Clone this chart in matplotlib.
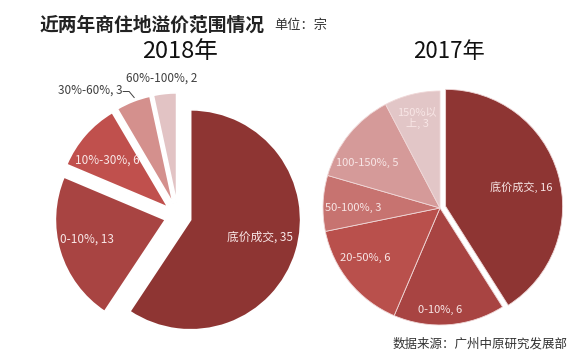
import numpy as np
import matplotlib.pyplot as plt

plt.rcParams['font.family'] = ['Noto Sans CJK SC', 'DejaVu Sans']

# data
labels_2018 = ['底价成交', '0-10%', '10%-30%', '30%-60%', '60%-100%']
values_2018 = [35, 13, 6, 3, 2]
colors_2018 = ['#8e3533', '#a84442', '#c0504d', '#d4908d', '#e2c3c4']

labels_2017 = ['底价成交', '0-10%', '20-50%', '50-100%', '100-150%', '150%以\n上']
values_2017 = [16, 6, 6, 3, 5, 3]
colors_2017 = ['#8e3533', '#a84442', '#b9504c', '#c77370', '#d59a99', '#e2c6c7']

title = '近两年商住地溢价范围情况'
unit = '单位：宗'
source = '数据来源：广州中原研究发展部'

W, H = 572, 360
fig = plt.figure(figsize=(W / 100, H / 100), dpi=100)
ax = fig.add_axes([0, 0, 1, 1])

# pie explode is in data units here (pixels), so scale by the radius
r18, r17 = 110, 117
w18, _ = ax.pie(values_2018, colors=colors_2018, startangle=90, counterclock=False,
                center=(178, 144), radius=r18, explode=[0.12 * r18] * 5,
                wedgeprops=dict(edgecolor='white', linewidth=1.2))
w17, _ = ax.pie(values_2017, colors=colors_2017, startangle=90, counterclock=False,
                center=(440, 152), radius=r17, explode=[0.05 * r17, 0, 0, 0, 0, 0],
                wedgeprops=dict(edgecolor='#f0d8d8', linewidth=0.6))
ax.set_xlim(0, W)
ax.set_ylim(0, H)
ax.set_aspect('equal')
ax.axis('off')


def polar(w, rfrac, dang=0.0):
    mid = np.deg2rad((w.theta1 + w.theta2) / 2 + dang)
    cx, cy = w.center
    return cx + w.r * rfrac * np.cos(mid), cy + w.r * rfrac * np.sin(mid)


inside = '#f8e6e6'
outside = '#404040'
# (radial fraction, angle shift) for each label, None = outside label
lay_2018 = [(0.65, 3), (0.73, -3), (0.70, 3.6), None, None]
for w, lab, v, lay in zip(w18, labels_2018, values_2018, lay_2018):
    if lay is None:
        continue
    x, y = polar(w, *lay)
    ax.text(x, y, f'{lab}, {v}', color=inside, fontsize=8.5, ha='center', va='center')

# 60%-100% sits above its slice
x, y = polar(w18[4], 1.14, 0.6)
ax.text(x, y, f'{labels_2018[4]}, {values_2018[4]}', color=outside, fontsize=8.5,
        ha='center', va='center')
# 30%-60% with a short leader line
px, py = polar(w18[3], 1.02, -1)
ax.plot([px - 11, px - 5, px], [py + 7, py + 7, py + 1], color=outside, lw=0.7)
ax.text(px - 12, py + 8, f'{labels_2018[3]}, {values_2018[3]}', color=outside,
        fontsize=8.5, ha='right', va='center')

lay_2017 = [(0.67, -1.7), (0.87, -4.6), (0.77, -5.5), (0.74, 2.3), (0.73, 7.2), (0.79, 0.5)]
for w, lab, v, lay in zip(w17, labels_2017, values_2017, lay_2017):
    x, y = polar(w, *lay)
    if '\n' in lab:
        txt = lab.replace('\n上', '\n上,') + f' {v}'
    else:
        txt = f'{lab}, {v}'
    ax.text(x, y, txt, color=inside, fontsize=8, ha='center', va='center',
            linespacing=1.1)

ax.text(40, H - 25, title, fontsize=13.5, fontweight='bold', color='#222222',
        ha='left', va='center')
ax.text(274, H - 26, unit, fontsize=9.5, color='#333333', ha='left', va='center')
ax.text(180, H - 52, '2018年', fontsize=17, color='#111111', ha='center', va='center')
ax.text(449, H - 52, '2017年', fontsize=16, color='#111111', ha='center', va='center')
ax.text(568, H - 344, source, fontsize=9, color='#333333', ha='right', va='center')

fig.savefig('out.png', dpi=100, facecolor='white')
